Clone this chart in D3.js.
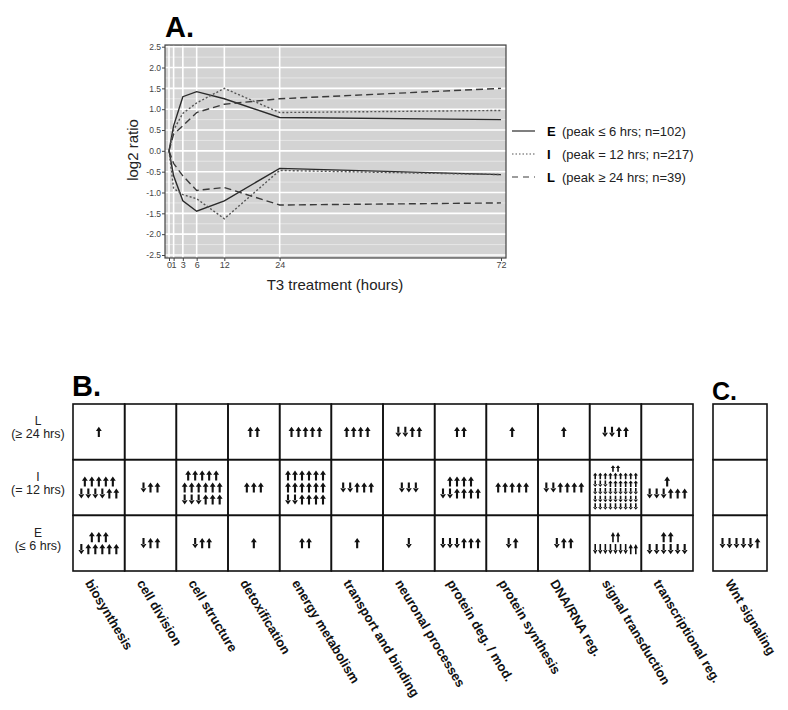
<!DOCTYPE html>
<html lang="en">
<head>
  <meta charset="UTF-8">
  <title>T3 response clusters</title>
  <script src="https://d3js.org/d3.v7.min.js"></script>
  <style>
    body {
      margin: 0;
      padding: 0;
      background: #ffffff;
      font-family: "Liberation Sans", Arial, sans-serif;
    }
    svg text { font-family: "Liberation Sans", Arial, sans-serif; }
  </style>
</head>
<body>
  <div id="vis"></div>

  <script>
    // ---- panel A data ----
    const hours = [0, 1, 3, 6, 12, 24, 72];
    const yTicks = [-2.5, -2.0, -1.5, -1.0, -0.5, 0.0, 0.5, 1.0, 1.5, 2.0, 2.5];
    const earlyUp = [0, 0.6, 1.3, 1.42, 1.25, 0.8, 0.75];
    const earlyDown = [0, -0.6, -1.2, -1.45, -1.2, -0.42, -0.57];
    const interUp = [0, 0.5, 0.9, 1.15, 1.5, 0.92, 0.97];
    const interDown = [0, -0.9, -1.05, -1.15, -1.63, -0.47, -0.57];
    const lateUp = [0, 0.4, 0.6, 0.92, 1.12, 1.25, 1.5];
    const lateDown = [0, -0.3, -0.6, -0.95, -0.88, -1.3, -1.25];
    const clusterKeys = ["E", "I", "L"];
    const clusterNotes = ["(peak \u2264 6 hrs; n=102)", "(peak = 12 hrs; n=217)", "(peak \u2265 24 hrs; n=39)"];

    // ---- panel B / C data (rows of arrows separated by "|") ----
    const categories = ["biosynthesis", "cell division", "cell structure", "detoxification",
      "energy metabolism", "transport and binding", "neuronal processes", "protein deg. / mod.",
      "protein synthesis", "DNA/RNA reg.", "signal transduction", "transcriptional reg."];
    const rowKeys = ["L", "I", "E"];
    const rowNotes = ["(\u2265 24 hrs)", "(= 12 hrs)", "(\u2264 6 hrs)"];
    const lateGenes = ["↑", "", "", "↑↑", "↑↑↑↑↑", "↑↑↑↑", "↓↓↑↑", "↑↑", "↑", "↑", "↓↓↑↑", ""];
    const interGenes = ["↑↑↑↑↑|↓↓↓↓↑↑", "↓↑↑", "↑↑↑↑↑|↑↑↑↑↑↑|↓↓↓↑↑↑", "↑↑↑",
      "↑↑↑↑↑↑|↑↑↑↑↑↑|↓↓↑↑↑↑", "↓↓↑↑↑", "↓↓↓", "↑↑↑↑|↓↓↑↑↑↑", "↑↑↑↑↑", "↓↓↑↑↑↑",
      "↑↑|↑↑↑↑↑↑↑↑↑|↓↓↓↑↑↑↑↑↑|↓↓↓↓↓↓↓↓↓|↓↓↓↓↓↓↓↓↓|↓↓↓↓↓↓↓↓↓", "↑|↓↓↓↑↑↑"];
    const earlyGenes = ["↑↑↑|↓↑↑↑↑↑", "↓↑↑", "↓↑↑", "↑", "↑↑", "↑", "↓", "↓↓↓↑↑↑", "↓↑", "↓↑↑",
      "↑↑|↓↓↓↓↓↓↓↑↑", "↑↑|↓↓↓↓↓↓"];
    const wntCategory = ["Wnt signaling"];
    const wntGenes = ["", "", "↓↓↓↓↓↑"];

    const width = 788, height = 710;
    const svg = d3.select("#vis").append("svg")
      .attr("width", width)
      .attr("height", height);

    // ================= Panel A =================
    const x = d3.scaleLinear().domain([0, 72]).range([169, 501]);
    const y = d3.scaleLinear().domain([-2.5, 2.5]).range([255, 46.7]);
    const plot = { left: 165, right: 506, top: 45, bottom: 258 };

    svg.append("text")
      .attr("x", 165).attr("y", 37)
      .attr("font-size", 29).attr("font-weight", "bold")
      .text("A.");

    svg.append("rect")
      .attr("x", plot.left).attr("y", plot.top)
      .attr("width", plot.right - plot.left).attr("height", plot.bottom - plot.top)
      .attr("fill", "#d3d3d3");

    // minor + major grid
    const minor = d3.range(-2.25, 2.5, 0.5);
    svg.append("g").selectAll("line")
      .data(minor).join("line")
      .attr("x1", plot.left).attr("x2", plot.right)
      .attr("y1", d => y(d)).attr("y2", d => y(d))
      .attr("stroke", "#e6e6e6").attr("stroke-width", 1);
    svg.append("g").selectAll("line")
      .data(yTicks).join("line")
      .attr("x1", plot.left).attr("x2", plot.right)
      .attr("y1", d => y(d)).attr("y2", d => y(d))
      .attr("stroke", "#ffffff").attr("stroke-width", 1.6);
    svg.append("g").selectAll("line")
      .data(hours.slice(0, -1)).join("line")
      .attr("x1", d => x(d)).attr("x2", d => x(d))
      .attr("y1", plot.top).attr("y2", plot.bottom)
      .attr("stroke", "#ffffff").attr("stroke-width", 1.6);

    svg.append("rect")
      .attr("x", plot.left).attr("y", plot.top)
      .attr("width", plot.right - plot.left).attr("height", plot.bottom - plot.top)
      .attr("fill", "none").attr("stroke", "#444").attr("stroke-width", 1.2);

    const yAxis = d3.axisLeft(y).tickValues(yTicks).tickSize(3).tickFormat(d => d.toFixed(1));
    svg.append("g")
      .attr("transform", `translate(${plot.left},0)`)
      .call(yAxis)
      .call(g => g.select(".domain").remove())
      .call(g => g.selectAll("line").attr("stroke", "#444"))
      .call(g => g.selectAll("text").attr("font-size", 8.5).attr("fill", "#444").attr("x", -4));

    const xAxis = d3.axisBottom(x).tickValues(hours).tickSize(3).tickFormat(d3.format("d"));
    svg.append("g")
      .attr("transform", `translate(0,${plot.bottom})`)
      .call(xAxis)
      .call(g => g.select(".domain").remove())
      .call(g => g.selectAll("line").attr("stroke", "#444"))
      .call(g => g.selectAll("text").attr("font-size", 9).attr("fill", "#444").attr("y", 4));

    svg.append("text")
      .attr("transform", "translate(138,150) rotate(-90)")
      .attr("text-anchor", "middle")
      .attr("font-size", 15).attr("fill", "#222")
      .text("log2 ratio");

    svg.append("text")
      .attr("x", 335).attr("y", 290)
      .attr("text-anchor", "middle")
      .attr("font-size", 15).attr("fill", "#222")
      .text("T3 treatment (hours)");

    const styles = {
      E: { dash: null, color: "#2a2a2a", w: 1.4 },
      I: { dash: "2,2", color: "#555", w: 1.4 },
      L: { dash: "7,4", color: "#3a3a3a", w: 1.4 }
    };
    const series = [
      { key: "E", values: earlyUp }, { key: "E", values: earlyDown },
      { key: "I", values: interUp }, { key: "I", values: interDown },
      { key: "L", values: lateUp }, { key: "L", values: lateDown }
    ];
    const line = d3.line().x((d, i) => x(hours[i])).y(d => y(d));
    svg.append("g").selectAll("path")
      .data(series).join("path")
      .attr("d", d => line(d.values))
      .attr("fill", "none")
      .attr("stroke", d => styles[d.key].color)
      .attr("stroke-width", d => styles[d.key].w)
      .attr("stroke-dasharray", d => styles[d.key].dash);

    // legend
    const legend = svg.append("g").selectAll("g")
      .data(clusterKeys).join("g")
      .attr("transform", (d, i) => `translate(0,${131 + i * 23})`);
    legend.append("line")
      .attr("x1", 512).attr("x2", 535)
      .attr("stroke", d => styles[d].color)
      .attr("stroke-width", 1.2)
      .attr("stroke-dasharray", d => d === "I" ? "1.5,2" : d === "L" ? "6,5" : null);
    legend.append("text")
      .attr("x", 547).attr("y", 5)
      .attr("font-size", 13).attr("font-weight", "bold")
      .text(d => d);
    legend.append("text")
      .attr("x", 562).attr("y", 5)
      .attr("font-size", 13).attr("fill", "#222")
      .text((d, i) => clusterNotes[i]);

    // ================= Panel B & C =================
    const colB = d3.scaleBand().domain(categories).range([73, 693]);
    const colC = d3.scaleBand().domain(wntCategory).range([713, 767]);
    const row = d3.scaleBand().domain(rowKeys).range([404, 571]);

    svg.append("text")
      .attr("x", 72).attr("y", 396)
      .attr("font-size", 29).attr("font-weight", "bold")
      .text("B.");
    svg.append("text")
      .attr("x", 712).attr("y", 400)
      .attr("font-size", 25).attr("font-weight", "bold")
      .text("C.");

    // row labels (letter above, peak window below)
    const rlg = svg.append("g");
    rlg.selectAll("text.rk")
      .data(rowKeys).join("text")
      .attr("class", "rk")
      .attr("x", 38).attr("y", d => row(d) + row.bandwidth() / 2 - 6.5)
      .attr("text-anchor", "middle")
      .attr("font-size", 12).attr("fill", "#222")
      .text(d => d);
    rlg.selectAll("text.rn")
      .data(rowKeys).join("text")
      .attr("class", "rn")
      .attr("x", 38).attr("y", d => row(d) + row.bandwidth() / 2 + 6.5)
      .attr("text-anchor", "middle")
      .attr("font-size", 12.5).attr("fill", "#222")
      .text((d, i) => rowNotes[i]);

    const geneRows = { L: lateGenes, I: interGenes, E: earlyGenes };
    const cellsB = [];
    rowKeys.forEach(r => categories.forEach((c, j) => cellsB.push({ col: colB, c, r, genes: geneRows[r][j] })));
    const cellsC = rowKeys.map((r, i) => ({ col: colC, c: wntCategory[0], r, genes: wntGenes[i] }));
    const cells = cellsB.concat(cellsC);

    const cellG = svg.append("g").selectAll("g")
      .data(cells).join("g");
    cellG.append("rect")
      .attr("x", d => d.col(d.c)).attr("y", d => row(d.r))
      .attr("width", d => d.col.bandwidth()).attr("height", row.bandwidth())
      .attr("fill", "none").attr("stroke", "#111").attr("stroke-width", 1.6);

    function arrowPath(cx, cy, w, h, up) {
      const hw = Math.max(2.2, w * 0.42), hh = h * 0.42;
      const sw = w >= 6 ? 1.05 : 0.8;
      const top = cy - h / 2, bot = cy + h / 2;
      if (up) {
        return `M${cx - hw},${top + hh}L${cx},${top}L${cx + hw},${top + hh}Z` +
          `M${cx - sw},${top + hh - 0.5}L${cx + sw},${top + hh - 0.5}L${cx + sw},${bot}L${cx - sw},${bot}Z`;
      }
      return `M${cx - hw},${bot - hh}L${cx},${bot}L${cx + hw},${bot - hh}Z` +
        `M${cx - sw},${top}L${cx + sw},${top}L${cx + sw},${bot - hh + 0.5}L${cx - sw},${bot - hh + 0.5}Z`;
    }

    cellG.each(function (d) {
      if (!d.genes) return;
      const rows = d.genes.split("|").map(s => Array.from(s));
      const cw = d.col.bandwidth(), ch = row.bandwidth();
      const maxLen = d3.max(rows, r => r.length);
      const w = Math.min(7, (cw - 6) / maxLen);
      const pitch = Math.min(12, (ch - 10) / rows.length);
      const h = pitch * 0.85;
      const cx = d.col(d.c) + cw / 2, cy = row(d.r) + ch / 2;
      const g = d3.select(this);
      rows.forEach((r, ri) => {
        const ry = cy - (rows.length - 1) * pitch / 2 + ri * pitch;
        r.forEach((a, ai) => {
          const ax = cx - (r.length - 1) * w / 2 + ai * w;
          g.append("path")
            .attr("d", arrowPath(ax, ry, w, h, a === "↑"))
            .attr("fill", "#111");
        });
      });
    });

    // rotated category labels
    const labAngle = 59;
    svg.append("g").selectAll("text")
      .data(categories.map(c => ({ c, col: colB })).concat(wntCategory.map(c => ({ c, col: colC }))))
      .join("text")
      .attr("transform", d => `translate(${d.col(d.c) + 20},578) rotate(${labAngle})`)
      .attr("dominant-baseline", "hanging")
      .attr("font-size", 13).attr("font-weight", "bold").attr("fill", "#111")
      .text(d => d.c);
  </script>
</body>
</html>
